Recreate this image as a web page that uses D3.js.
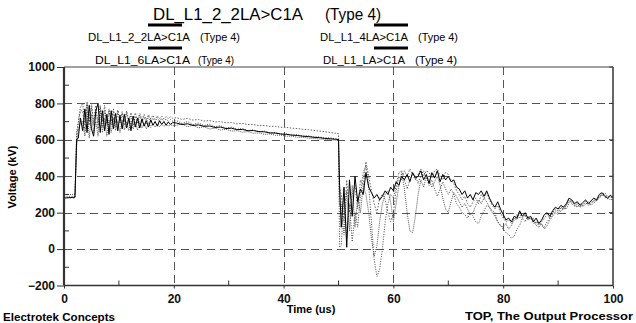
<!DOCTYPE html>
<html>
<head>
<meta charset="utf-8">
<script src="https://cdn.jsdelivr.net/npm/d3@7"></script>
<style>
  html, body { margin: 0; padding: 0; background: #fff; }
  svg { display: block; font-family: "Liberation Sans", Arial, sans-serif; }
</style>
</head>
<body>
<svg id="chart" width="636" height="323"></svg>
<script>
// ---------------- DATA ----------------
const titleName = "DL_L1_2_2LA>C1A";
const seriesNames = ["DL_L1_2_2LA>C1A", "DL_L1_4LA>C1A", "DL_L1_6LA>C1A", "DL_L1_LA>C1A"];
const seriesType = "(Type 4)";
const xTicks = [0, 20, 40, 60, 80, 100];
const yTicks = [-200, 0, 200, 400, 600, 800, 1000];
const xMinor = [10, 30, 50, 70, 90];
const yMinor = [-100, 100, 300, 500, 700, 900];
const xLabel = "Time (us)";
const yLabel = "Voltage (kV)";
const footLeft = "Electrotek Concepts";
const footRight = "TOP, The Output Processor";

// time samples (us)
const timeUs = [
  0, 2.0, 2.3, 2.6, 3.0,
  3.4, 3.8, 4.2, 4.6, 5.0, 5.4, 5.8, 6.2, 6.6, 7.0, 7.4, 7.8, 8.2, 8.6, 9.0, 9.4, 9.8,
  10.2, 10.6, 11.0, 11.4, 11.8, 12.2, 12.6, 13.0, 13.4, 13.8, 14.2, 14.6, 15.0, 15.4, 15.8,
  16.2, 16.6, 17.0, 17.4, 17.8, 18.2, 18.6, 19.0, 19.4, 19.8,
  20.5, 21.5, 22.5, 23.5, 24.5, 25.5, 26.5, 27.5, 28.5, 29.5, 30.5, 31.5, 32.5, 33.5, 34.5,
  35.5, 36.5, 37.5, 38.5, 39.5, 40.5, 41.5, 42.5, 43.5, 44.5, 45.5, 46.5, 47.5, 48.5, 49.5,
  50.0, 50.2,
  50.5, 51.0, 51.5, 52.0, 52.5, 53.0, 53.5, 54.0, 54.5, 55.0, 55.5, 56.0, 56.5, 57.0, 57.5,
  58.0, 58.5, 59.0, 59.5, 60.0, 60.5, 61.0, 61.5, 62.0, 62.5, 63.0, 63.5, 64.0, 64.5, 65.0,
  65.5, 66.0, 66.5, 67.0, 67.5, 68.0, 68.5, 69.0, 69.5, 70.0, 70.5, 71.0, 71.5, 72.0, 72.5,
  73.0, 73.5, 74.0, 74.5, 75.0, 75.5, 76.0, 76.5, 77.0, 77.5, 78.0, 78.5, 79.0, 79.5, 80.0,
  80.5, 81.0, 81.5, 82.0, 82.5, 83.0, 83.5, 84.0, 84.5, 85.0, 85.5, 86.0, 86.5, 87.0, 87.5,
  88.0, 88.5, 89.0, 89.5, 90.0, 90.5, 91.0, 91.5, 92.0, 92.5, 93.0, 93.5, 94.0, 94.5, 95.0,
  95.5, 96.0, 96.5, 97.0, 97.5, 98.0, 98.5, 99.0, 99.5, 100.0
];

// kV values, one array per trace
const vL1_2_2LA = [
  280, 285, 600, 610, 720,
  650, 770, 640, 790, 660, 620, 760, 800, 640, 760, 650, 740, 630, 760, 660, 745, 650,
  735, 660, 740, 665, 720, 650, 730, 670, 720, 665, 715, 675, 705, 670, 710,
  680, 700, 675, 705, 685, 700, 680, 698, 685, 695,
  692, 684, 688, 679, 682, 674, 676, 668, 670, 662, 664, 656, 657, 650, 651,
  645, 644, 638, 637, 632, 630, 626, 624, 620, 618, 614, 612, 608, 606, 603,
  602, 350,
  120, 340, 10, 380, 180, 400, 260, 330, 300, 420, 340, 310, 280, 300, 270,
  290, 320, 300, 340, 320, 370, 350, 400, 380, 410, 370, 420, 390, 400, 430,
  380, 410, 360, 420, 390, 430, 370, 410, 380, 400, 370, 380, 340, 330, 300,
  320, 280, 300, 270, 310, 300, 320, 290, 320, 280, 250, 230, 260, 220, 190,
  160, 170, 150, 180, 170, 210, 180, 200, 170, 180, 150, 170, 140, 160, 190,
  200, 180, 210, 230, 220, 240, 230, 250, 280, 270, 250, 260, 240, 255, 270,
  250, 265, 280, 270, 300, 310, 290, 280, 295, 285
];
const vL1_4LA = [
  290, 290, 640, 700, 780,
  800, 690, 810, 700, 780, 680, 770, 690, 790, 670, 760, 690, 770, 680, 750, 670, 760,
  690, 745, 680, 750, 690, 735, 680, 730, 690, 735, 695, 725, 690, 728, 695,
  720, 700, 722, 698, 718, 702, 715, 700, 712, 703,
  705, 690, 700, 684, 692, 678, 686, 672, 678, 664, 670, 658, 662, 650, 655,
  645, 648, 638, 641, 632, 634, 626, 628, 620, 622, 616, 616, 610, 611, 606,
  605, 10,
  20, 300, 60, 250, 40, 200, 120, 300, 420, 460, 350, 150, -60, -150, -110,
  0, 150, 250, 300, 280, 350, 420, 430, 380, 330, 380, 420, 400, 360, 400,
  430, 390, 350, 380, 330, 290, 330, 370, 330, 300, 330, 300, 250, 230, 200,
  190, 170, 200, 180, 150, 140, 180, 210, 240, 230, 210, 200, 150, 130, 110,
  90, 80, 60, 70, 110, 130, 170, 150, 180, 160, 170, 140, 150, 130, 120,
  150, 170, 190, 210, 200, 225, 215, 240, 265, 250, 235, 245, 230, 240, 255,
  240, 250, 265, 270, 285, 300, 310, 290, 285, 280
];
const vL1_6LA = [
  300, 300, 560, 650, 700,
  700, 620, 760, 610, 740, 640, 700, 620, 760, 640, 720, 620, 710, 640, 720, 650, 705,
  640, 710, 655, 700, 650, 705, 660, 695, 655, 700, 665, 690, 660, 695, 668,
  690, 670, 688, 672, 686, 674, 684, 676, 684, 678,
  680, 688, 672, 680, 666, 672, 660, 664, 654, 658, 648, 650, 642, 645, 636,
  638, 630, 632, 625, 626, 620, 620, 614, 614, 609, 608, 604, 603, 600, 598,
  597, 240,
  250, 80, 320, 100, 350, 120, 280, 200, 350, 300, 200, 60, -40, 20, 150,
  250, 300, 320, 260, 150, 250, 350, 420, 330, 200, 100, 90, 180, 300, 380,
  340, 400, 380, 340, 370, 400, 350, 280, 220, 200, 260, 310, 290, 260, 230,
  250, 220, 190, 200, 240, 270, 250, 280, 260, 230, 200, 180, 150, 130, 120,
  140, 110, 130, 160, 190, 170, 200, 180, 160, 180, 160, 130, 120, 140, 110,
  130, 160, 180, 200, 190, 210, 230, 220, 250, 270, 240, 230, 250, 235, 245,
  260, 240, 255, 265, 280, 295, 300, 285, 270, 275
];
const vL1_LA = [
  285, 280, 620, 690, 760,
  760, 650, 800, 680, 800, 700, 790, 660, 780, 700, 790, 680, 760, 700, 770, 690, 765,
  705, 755, 700, 760, 705, 750, 710, 748, 705, 745, 712, 740, 710, 738, 715,
  735, 712, 732, 716, 730, 714, 728, 716, 726, 718,
  722, 712, 718, 708, 712, 703, 706, 698, 700, 694, 695, 688, 690, 684, 684,
  678, 679, 674, 674, 669, 668, 664, 662, 658, 656, 652, 648, 645, 640, 636,
  634, 330,
  300, 150, 380, 200, 300, 350, 220, 380, 350, 480, 400, 320, 250, 200, 280,
  300, 270, 200, 150, 200, 320, 400, 380, 430, 400, 440, 410, 380, 410, 440,
  400, 430, 420, 390, 430, 440, 400, 380, 420, 410, 380, 360, 320, 300, 270,
  290, 250, 230, 260, 280, 250, 300, 280, 310, 270, 240, 220, 240, 200, 170,
  150, 160, 140, 170, 160, 200, 170, 190, 160, 170, 140, 150, 130, 150, 170,
  190, 170, 200, 220, 210, 230, 220, 240, 270, 260, 240, 250, 230, 245, 260,
  245, 255, 270, 265, 290, 300, 285, 275, 290, 280
];

// ---------------- DRAW ----------------
const svg = d3.select("#chart");
const plot = { left: 64, right: 613, top: 67, bottom: 285.5 };

const x = d3.scaleLinear().domain([0, 100]).range([plot.left, plot.right]);
const y = d3.scaleLinear().domain([-200, 1000]).range([plot.bottom, plot.top]);

svg.append("rect").attr("width", 636).attr("height", 323).attr("fill", "#fff");

svg.append("defs").append("clipPath").attr("id", "clip")
  .append("rect")
  .attr("x", plot.left).attr("y", plot.top)
  .attr("width", plot.right - plot.left).attr("height", plot.bottom - plot.top);

// grid
const grid = svg.append("g").attr("stroke", "#555").attr("stroke-width", 1)
  .attr("stroke-dasharray", "8,5");
grid.selectAll(".gy").data(yTicks.filter(v => v > -200 && v < 1000)).join("line")
  .attr("x1", plot.left).attr("x2", plot.right)
  .attr("y1", d => Math.round(y(d)) + 0.5).attr("y2", d => Math.round(y(d)) + 0.5);
grid.selectAll(".gx").data(xTicks.filter(v => v > 0 && v < 100)).join("line")
  .attr("y1", plot.top).attr("y2", plot.bottom)
  .attr("x1", d => Math.round(x(d)) + 0.5).attr("x2", d => Math.round(x(d)) + 0.5);

// traces
const traces = [
  { name: seriesNames[0], values: vL1_2_2LA, stroke: "#000", dash: null, width: 1 },
  { name: seriesNames[1], values: vL1_4LA, stroke: "#444", dash: "1,1.5", width: 1 },
  { name: seriesNames[2], values: vL1_6LA, stroke: "#555", dash: "1,1", width: 1 },
  { name: seriesNames[3], values: vL1_LA, stroke: "#666", dash: "1.5,1.5", width: 1 }
];
const line = d3.line().x((d, i) => x(timeUs[i])).y(d => y(d));
const lines = svg.append("g").attr("clip-path", "url(#clip)");
traces.slice().reverse().forEach(t => {
  lines.append("path")
    .attr("d", line(t.values))
    .attr("fill", "none")
    .attr("stroke", t.stroke)
    .attr("stroke-width", t.width)
    .attr("stroke-dasharray", t.dash);
});

// axes
const yAxis = d3.axisLeft(y).tickValues(yTicks).tickSize(7).tickPadding(2)
  .tickFormat(d3.format("d"));
const gy = svg.append("g").attr("transform", `translate(${plot.left},0)`).call(yAxis);
gy.select(".domain").remove();
gy.selectAll("line").attr("stroke", "#333");
gy.selectAll("text").attr("font-size", 12).attr("font-weight", "bold").attr("fill", "#111");

const xAxis = d3.axisBottom(x).tickValues(xTicks).tickSize(3).tickPadding(6)
  .tickFormat(d3.format("d"));
const gx = svg.append("g").attr("transform", `translate(0,${plot.bottom})`).call(xAxis);
gx.select(".domain").remove();
gx.selectAll("line").attr("stroke", "#333");
gx.selectAll("text").attr("font-size", 12).attr("font-weight", "bold").attr("fill", "#111");

// minor ticks (inside)
svg.append("g").selectAll("line").data(yMinor).join("line")
  .attr("x1", plot.left).attr("x2", plot.left + 5)
  .attr("y1", d => y(d)).attr("y2", d => y(d)).attr("stroke", "#333");
svg.append("g").selectAll("line").data(xMinor).join("line")
  .attr("x1", d => x(d)).attr("x2", d => x(d))
  .attr("y1", plot.bottom).attr("y2", plot.bottom - 5).attr("stroke", "#333");
svg.append("g").selectAll("line").data(yTicks).join("line")
  .attr("x1", plot.right).attr("x2", plot.right - 4)
  .attr("y1", d => y(d)).attr("y2", d => y(d)).attr("stroke", "#333");

// frame lines
svg.append("line").attr("x1", plot.left).attr("x2", plot.right)
  .attr("y1", plot.top).attr("y2", plot.top).attr("stroke", "#444").attr("stroke-width", 1);
svg.append("line").attr("x1", plot.left).attr("x2", plot.right)
  .attr("y1", plot.bottom).attr("y2", plot.bottom).attr("stroke", "#333").attr("stroke-width", 1.5);
svg.append("line").attr("x1", plot.right).attr("x2", plot.right)
  .attr("y1", plot.top).attr("y2", plot.bottom).attr("stroke", "#333").attr("stroke-width", 1.5);
svg.append("line").attr("x1", plot.left).attr("x2", plot.left)
  .attr("y1", plot.top).attr("y2", plot.bottom).attr("stroke", "#333").attr("stroke-width", 2.2);

// helper: text fitted to a measured span
function fitText(str, x0, x1, yb, size, weight) {
  return svg.append("text").attr("x", x0).attr("y", yb)
    .attr("font-size", size).attr("font-weight", weight || "normal").attr("fill", "#000")
    .attr("textLength", x1 - x0).attr("lengthAdjust", "spacingAndGlyphs")
    .text(str);
}

// title
fitText(titleName, 153, 303, 20, 16);
fitText(seriesType, 325, 381, 20, 16);

// legend: thick swatch above its label
const legendPos = [
  { sx: 148, sy: 25, n0: 88, n1: 190, t0: 200, t1: 240, ty: 41 },
  { sx: 374, sy: 25, n0: 320, n1: 408, t0: 418, t1: 458, ty: 41 },
  { sx: 148, sy: 48, n0: 95, n1: 190, t0: 198, t1: 234, ty: 64 },
  { sx: 374, sy: 48, n0: 323, n1: 405, t0: 415, t1: 457, ty: 64 }
];
traces.forEach((t, i) => {
  const p = legendPos[i];
  svg.append("line").attr("x1", p.sx).attr("x2", p.sx + 34)
    .attr("y1", p.sy).attr("y2", p.sy).attr("stroke", "#000").attr("stroke-width", 3);
  fitText(t.name, p.n0, p.n1, p.ty, 11);
  fitText(seriesType, p.t0, p.t1, p.ty, 11);
});

// axis titles
svg.append("text").attr("transform", "translate(16,177) rotate(-90)")
  .attr("text-anchor", "middle").attr("font-size", 11).attr("font-weight", "bold")
  .text(yLabel);
svg.append("text").attr("x", 311).attr("y", 313).attr("text-anchor", "middle")
  .attr("font-size", 11).attr("font-weight", "bold").text(xLabel);

// footers
fitText(footLeft, 3, 115, 321, 10.5, "bold");
fitText(footRight, 465, 633, 320, 11, "bold");
</script>
</body>
</html>
